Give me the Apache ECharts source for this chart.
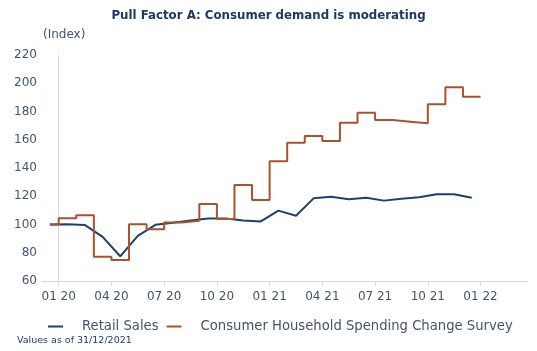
<!DOCTYPE html>
<html>
<head>
<meta charset="utf-8">
<script src="https://cdn.jsdelivr.net/npm/echarts@6/dist/echarts.min.js"></script>
<style>
  html, body { margin: 0; padding: 0; background: #fff; }
  #chart { width: 537px; height: 351px; }
</style>
</head>
<body>
<div id="chart"></div>
<script>
// Months from Dec 2019 to Dec 2021
var months = ['12/19', '01/20', '02/20', '03/20', '04/20', '05/20', '06/20', '07/20', '08/20', '09/20', '10/20', '11/20', '12/20',
    '01/21', '02/21', '03/21', '04/21', '05/21', '06/21', '07/21', '08/21', '09/21', '10/21', '11/21', '12/21'];
var retailSales = [100, 100.2, 99.6, 91.2, 77.5, 92, 99.8, 101.3, 102.8, 104.2, 104.2, 102.8, 102.2,
    109.8, 106.2, 118.5, 119.7, 117.8, 118.9, 116.9, 118.3, 119.3, 121.4, 121.4, 119];
var spendingSurvey = [100, 104.4, 106.5, 77.2, 74.9, 100.1, 96.7, 101.4, 102.7, 114.5, 103.9, 128, 117.3,
    144.7, 157.9, 162.7, 159.1, 172.1, 179.2, 174, 172.8, 171.6, 185.1, 197.1, 190.5];
var tickLabels = ['01 20', '04 20', '07 20', '10 20', '01 21', '04 21', '07 21', '10 21', '01 22'];

var textColor = '#44546a';
var font = 'DejaVu Sans';

// x axis is in months, 0 = start of Jan 2020; each month spans [m, m+1]
var retailData = retailSales.map(function(v, i) { return [i - 0.5, v]; });
var surveyData = spendingSurvey.map(function(v, i) { return [i === 0 ? -0.5 : i - 1, v]; });
surveyData.push([months.length - 1, spendingSurvey[spendingSurvey.length - 1]]);
var tickValues = tickLabels.map(function(t, i) { return i * 3; });

var chart = echarts.init(document.getElementById('chart'));
chart.setOption({
    animation: false,
    textStyle: { fontFamily: font },
    title: [{
        text: 'Pull Factor A: Consumer demand is moderating',
        left: 'center',
        top: 5,
        textStyle: { fontFamily: font, fontSize: 11.8, fontWeight: 'bold', color: '#1f3864' }
    }, {
        text: 'Values as of 31/12/2021',
        left: 12,
        top: 331,
        textStyle: { fontFamily: font, fontSize: 9.5, fontWeight: 'normal', color: '#1f3864' }
    }],
    graphic: [{
        type: 'text',
        left: 43,
        top: 29,
        style: { text: '(Index)', fill: textColor, font: '12px "DejaVu Sans"' }
    }],
    legend: {
        top: 315,
        left: 43,
        itemWidth: 15,
        itemHeight: 2,
        itemGap: 8,
        icon: 'rect',
        textStyle: { fontFamily: font, fontSize: 13.2, color: textColor, padding: [0, 0, 0, 14] },
        data: ['Retail Sales', 'Consumer Household Spending Change Survey']
    },
    grid: { left: 42, right: 9, top: 55, bottom: 70 },
    xAxis: {
        type: 'value',
        min: -0.95,
        max: 26.7,
        splitLine: { show: false },
        axisLine: { show: true, lineStyle: { color: '#d9d9d9' } },
        axisTick: { show: true, customValues: tickValues, length: 5, lineStyle: { color: '#d9d9d9' } },
        axisLabel: {
            customValues: tickValues,
            color: textColor,
            fontSize: 12,
            margin: 10,
            formatter: function(v) { return tickLabels[Math.round(v / 3)]; }
        }
    },
    yAxis: {
        type: 'value',
        min: 60,
        max: 220,
        interval: 20,
        splitLine: { show: false },
        axisLine: { show: true, lineStyle: { color: '#d9d9d9' } },
        axisTick: { show: false },
        axisLabel: { color: textColor, fontSize: 12, margin: 5 }
    },
    series: [{
        name: 'Retail Sales',
        type: 'line',
        data: retailData,
        showSymbol: false,
        lineStyle: { color: '#1f3f6e', width: 2 },
        itemStyle: { color: '#1f3f6e' }
    }, {
        name: 'Consumer Household Spending Change Survey',
        type: 'line',
        step: 'end',
        data: surveyData,
        showSymbol: false,
        lineStyle: { color: '#a9532e', width: 2 },
        itemStyle: { color: '#a9532e' }
    }]
});
</script>
</body>
</html>
